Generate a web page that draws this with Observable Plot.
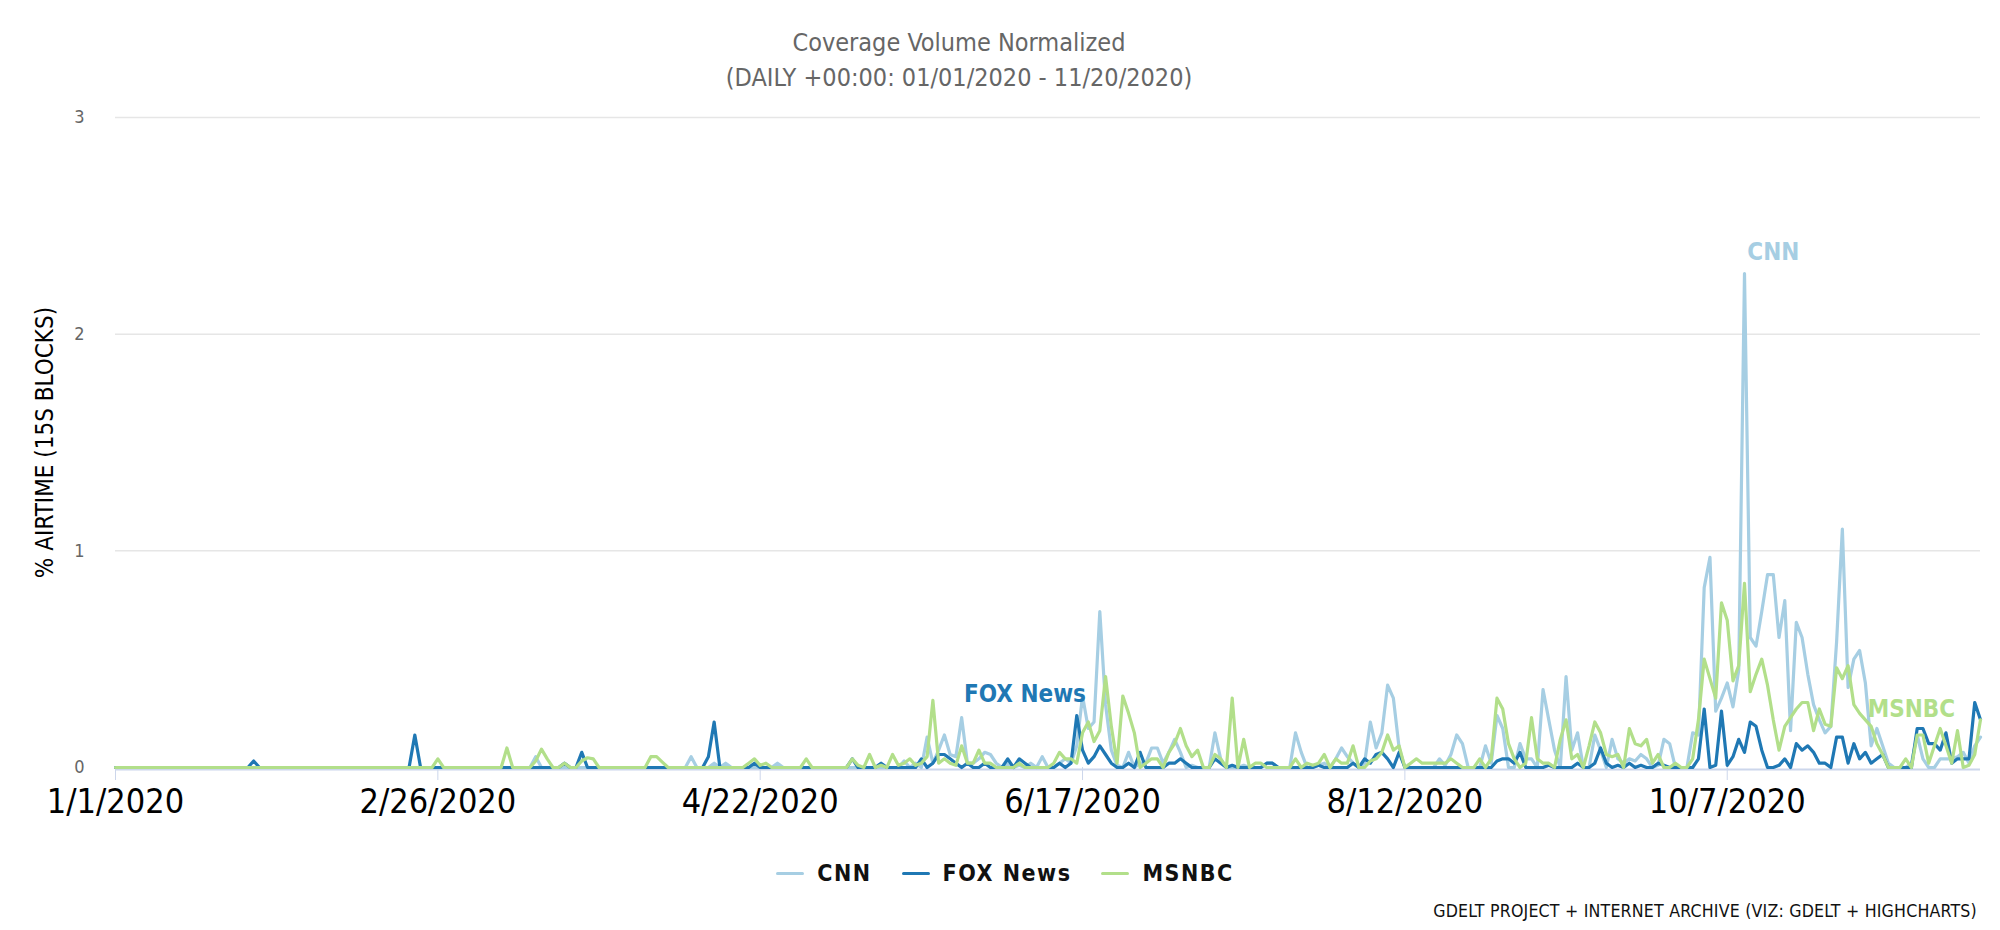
<!DOCTYPE html>
<html>
<head>
<meta charset="utf-8">
<script src="https://cdn.jsdelivr.net/npm/d3@7"></script>
<script src="https://cdn.jsdelivr.net/npm/@observablehq/plot@0.6"></script>
<style>
  body { margin: 0; background: #fff; }
  #wrap { position: relative; width: 2000px; height: 930px; overflow: hidden;
          font-family: "DejaVu Sans Condensed", "Liberation Sans Narrow", sans-serif; }
  #title { position: absolute; top: 25px; left: 0; width: 1918px; text-align: center;
           color: #666; font-size: 25px; line-height: 35px; }
  #chart { position: absolute; top: 100px; left: 0; }
  #chart svg { font-family: "DejaVu Sans Condensed", "Liberation Sans Narrow", sans-serif; }
  #chart g[aria-label="series-label"] text { letter-spacing: 3px; }
  #legend { position: absolute; top: 860px; left: 0; width: 2010px; display: flex;
            justify-content: center; align-items: center; gap: 30px; }
  .item { display: flex; align-items: center; gap: 13px; font-size: 23px; font-weight: bold;
          letter-spacing: 1.5px; color: #111; }
  .swatch { width: 28px; height: 3px; border-radius: 2px; }
  #caption { position: absolute; right: 23px; top: 901px; font-size: 17.6px; color: #111;
             letter-spacing: 0.2px; }
</style>
</head>
<body>
<div id="wrap">
  <div id="title">Coverage Volume Normalized<br>(DAILY +00:00: 01/01/2020 - 11/20/2020)</div>
  <div id="chart"></div>
  <div id="legend"></div>
  <div id="caption">GDELT PROJECT + INTERNET ARCHIVE (VIZ: GDELT + HIGHCHARTS)</div>
</div>
<script>
// ---- data (daily, 2020-01-01 .. 2020-11-20) ----
const seriesNames = ["CNN", "FOX News", "MSNBC"];
const seriesColors = ["#a6cee3", "#1f78b4", "#b2df8a"];
const startDate = "2020-01-01";

const cnn = [
  0,0,0,0,0,0,0,0,0,0,
  0,0,0,0,0,0,0,0,0,0,
  0,0,0,0,0,0,0,0,0,0,
  0,0,0,0,0,0,0,0,0,0,
  0,0,0,0,0,0,0,0,0,0,
  0,0,0,0,0,0,0,0,0,0,
  0,0,0,0,0,0,0,0,0,0,
  0,0,0,0.05,0,0,0,0,0,0,
  0,0,0,0,0,0,0,0,0,0,
  0,0,0,0,0,0,0,0,0,0,
  0.05,0,0,0,0.02,0,0.02,0,0,0,
  0,0,0,0,0,0.02,0,0,0,0,
  0,0,0,0,0,0,0,0,0,0,
  0,0,0,0,0,0,0,0.03,0,0.02,
  0,0.14,0.02,0.08,0.15,0.06,0.05,0.23,0.02,0.02,
  0.04,0.07,0.06,0.02,0,0.02,0,0.01,0,0.02,
  0,0.05,0,0,0.02,0.04,0.02,0.1,0.33,0.18,
  0.21,0.72,0.29,0.08,0.01,0,0.07,0,0.02,0.02,
  0.09,0.09,0.02,0.07,0.13,0.07,0,0.01,0,0,
  0,0.16,0.04,0,0,0,0.01,0,0,0,
  0.02,0.02,0,0,0,0.16,0.07,0,0,0.01,
  0.02,0,0.04,0.09,0.05,0.02,0,0.02,0.21,0.09,
  0.16,0.38,0.32,0.09,0,0,0,0,0,0,
  0.04,0.01,0.06,0.15,0.11,0,0,0,0.1,0.02,
  0.24,0.18,0,0,0.11,0.04,0.04,0,0.36,0.22,
  0.08,0,0.42,0.08,0.16,0,0,0.15,0.08,0,
  0.13,0.04,0.02,0.04,0.03,0.06,0.04,0,0.01,0.13,
  0.11,0,0,0,0.16,0.15,0.83,0.97,0.26,0.32,
  0.39,0.28,0.45,2.28,0.6,0.56,0.72,0.89,0.89,0.6,
  0.77,0.17,0.67,0.6,0.43,0.29,0.22,0.16,0.19,0.58,
  1.10,0.37,0.5,0.54,0.39,0.1,0.18,0.1,0.02,0,
  0,0,0.02,0.15,0.04,0,0,0.04,0.04,0.04,
  0.05,0.07,0.02,0.1,0.14
];

const fox = [
  0,0,0,0,0,0,0,0,0,0,
  0,0,0,0,0,0,0,0,0,0,
  0,0,0,0,0.03,0,0,0,0,0,
  0,0,0,0,0,0,0,0,0,0,
  0,0,0,0,0,0,0,0,0,0,
  0,0,0.15,0,0,0,0,0,0,0,
  0,0,0,0,0,0,0,0,0,0,
  0,0,0,0,0,0,0,0,0.02,0,
  0,0.07,0,0,0,0,0,0,0,0,
  0,0,0,0,0,0,0,0,0,0,
  0,0,0,0.05,0.21,0,0,0,0,0,
  0,0.02,0,0,0,0,0,0,0,0,
  0,0,0,0,0,0,0,0,0.04,0,
  0,0,0,0.02,0,0,0,0,0,0,
  0.04,0,0.02,0.06,0.06,0.04,0.02,0,0.02,0,
  0,0.02,0,0,0,0.04,0,0.04,0.02,0,
  0,0,0,0,0.02,0,0.02,0.24,0.08,0.02,
  0.05,0.1,0.06,0.02,0,0,0.02,0,0.07,0,
  0,0,0,0.02,0.02,0.04,0.02,0,0,0,
  0,0.04,0.02,0,0.01,0,0,0,0,0,
  0.02,0.02,0,0,0,0,0,0,0,0.01,
  0,0,0,0,0,0.02,0,0.04,0.02,0.06,
  0.07,0.04,0,0.07,0,0,0,0,0,0,
  0,0,0,0,0,0,0,0,0,0,
  0.03,0.04,0.04,0.02,0.07,0,0,0,0,0.01,
  0,0,0,0,0.02,0,0,0.02,0.09,0.02,
  0,0.01,0,0.02,0,0.01,0,0,0.02,0.01,
  0,0,0,0,0,0.04,0.27,0,0.01,0.26,
  0.01,0.05,0.13,0.07,0.21,0.19,0.08,0,0,0.01,
  0.04,0,0.11,0.08,0.1,0.07,0.02,0.02,0,0.14,
  0.14,0.02,0.11,0.04,0.07,0.02,0.04,0.06,0,0,
  0,0,0,0.18,0.18,0.11,0.11,0.08,0.16,0.02,
  0.04,0.04,0.04,0.3,0.22
];

const msnbc = [
  0,0,0,0,0,0,0,0,0,0,
  0,0,0,0,0,0,0,0,0,0,
  0,0,0,0,0,0,0,0,0,0,
  0,0,0,0,0,0,0,0,0,0,
  0,0,0,0,0,0,0,0,0,0,
  0,0,0,0,0,0,0.04,0,0,0,
  0,0,0,0,0,0,0,0,0.09,0,
  0,0,0,0.03,0.085,0.04,0,0,0.02,0,
  0,0.03,0.045,0.04,0,0,0,0,0,0,
  0,0,0,0.05,0.05,0.025,0,0,0,0,
  0,0,0,0,0,0,0,0,0,0,
  0.02,0.04,0.01,0.02,0,0,0,0,0,0,
  0.04,0,0,0,0,0,0,0,0.04,0.01,
  0,0.06,0,0.01,0,0.06,0.01,0.02,0.04,0.01,
  0.02,0.05,0.31,0.02,0.04,0.02,0.01,0.1,0.02,0.02,
  0.08,0.02,0.02,0,0,0,0,0.02,0,0,
  0,0,0,0.02,0.07,0.04,0.04,0.02,0.16,0.21,
  0.12,0.17,0.42,0.19,0.02,0.33,0.25,0.16,0,0.02,
  0.04,0.04,0,0.07,0.11,0.18,0.1,0.05,0.08,0,
  0,0.06,0.04,0,0.32,0,0.13,0,0.02,0.02,
  0,0,0,0,0,0.04,0,0.02,0.01,0.02,
  0.06,0,0.04,0.02,0.02,0.1,0,0,0.03,0.04,
  0.07,0.15,0.08,0.1,0,0.02,0.04,0.02,0.02,0.02,
  0.02,0.02,0.04,0.02,0,0,0,0.04,0,0.04,
  0.32,0.27,0.11,0.04,0,0.02,0.23,0.04,0.02,0.02,
  0,0.13,0.22,0.04,0.06,0,0.1,0.21,0.16,0.06,
  0.05,0.06,0,0.18,0.11,0.1,0.13,0.02,0.06,0,
  0,0.02,0,0,0.04,0.22,0.5,0.41,0.32,0.76,
  0.68,0.4,0.47,0.85,0.35,0.43,0.5,0.38,0.22,0.08,
  0.19,0.23,0.27,0.3,0.3,0.17,0.27,0.2,0.19,0.46,
  0.41,0.47,0.29,0.25,0.22,0.19,0.11,0.06,0,0,
  0,0.04,0,0.15,0.15,0.02,0.1,0.18,0.1,0.02,
  0.17,0,0.01,0.06,0.22
];

const xTickDates = ["2020-01-01", "2020-02-26", "2020-04-22", "2020-06-17", "2020-08-12", "2020-10-07"];
const yTicks = [0, 1, 2, 3];

// in-chart series labels (anchored in data space)
const labelNames = ["CNN", "FOX News", "MSNBC"];
const labelDates = ["2020-10-15", "2020-06-07", "2020-11-08"];
const labelValues = [2.38, 0.34, 0.27];

// ---- build ----
const seriesValues = [cnn, fox, msnbc];
const t0 = new Date(startDate + "T00:00:00Z");
const rows = [];
seriesNames.forEach((name, k) => {
  seriesValues[k].forEach((v, i) => {
    rows.push({ date: d3.utcDay.offset(t0, i), value: v, series: name });
  });
});
const lastDate = d3.utcDay.offset(t0, cnn.length - 1);
const labels = labelNames.map((n, i) => ({ name: n, date: new Date(labelDates[i] + "T00:00:00Z"), value: labelValues[i] }));
const fmt = d3.utcFormat("%-m/%-d/%Y");

const chart = Plot.plot({
  width: 2000,
  height: 740,
  marginTop: 17,
  marginBottom: 73,
  marginLeft: 115,
  marginRight: 20,
  style: { background: "transparent", overflow: "visible" },
  x: { type: "utc", domain: [t0, lastDate] },
  y: { domain: [0, 3] },
  color: { domain: seriesNames, range: seriesColors },
  marks: [
    Plot.gridY({ ticks: [1, 2, 3], stroke: "#e6e6e6", strokeOpacity: 1, strokeWidth: 1.5 }),
    Plot.ruleY([0], { stroke: "#ccd6eb", strokeWidth: 2, dy: 2 }),
    Plot.axisX({
      ticks: xTickDates.map(d => new Date(d + "T00:00:00Z")),
      tickFormat: fmt, tickSize: 13, tickPadding: 8,
      stroke: "#ccd6eb", fill: "#000", fontSize: 34, label: null
    }),
    Plot.axisY({ ticks: yTicks, tickFormat: d3.format("d"), tickSize: 0, tickPadding: 31,
                 fill: "#666", fontSize: 18, label: null }),
    Plot.lineY(rows, { x: "date", y: "value", z: "series", stroke: "series", strokeWidth: 3.2 }),
    Plot.text(labels, {
      x: "date", y: "value", text: "name",
      fill: d => seriesColors[seriesNames.indexOf(d.name)],
      fontSize: 24, fontWeight: "bold", ariaLabel: "series-label"
    }),
    Plot.text(["% AIRTIME (15S BLOCKS)"], {
      frameAnchor: "left", textAnchor: "middle", rotate: -90, dx: -70, fontSize: 24, fill: "#000"
    })
  ]
});
document.getElementById("chart").appendChild(chart);

// legend
const legend = document.getElementById("legend");
seriesNames.forEach((n, i) => {
  const item = document.createElement("div");
  item.className = "item";
  const sw = document.createElement("div");
  sw.className = "swatch";
  sw.style.background = seriesColors[i];
  const tx = document.createElement("span");
  tx.textContent = n;
  item.appendChild(sw); item.appendChild(tx);
  legend.appendChild(item);
});
</script>
</body>
</html>
